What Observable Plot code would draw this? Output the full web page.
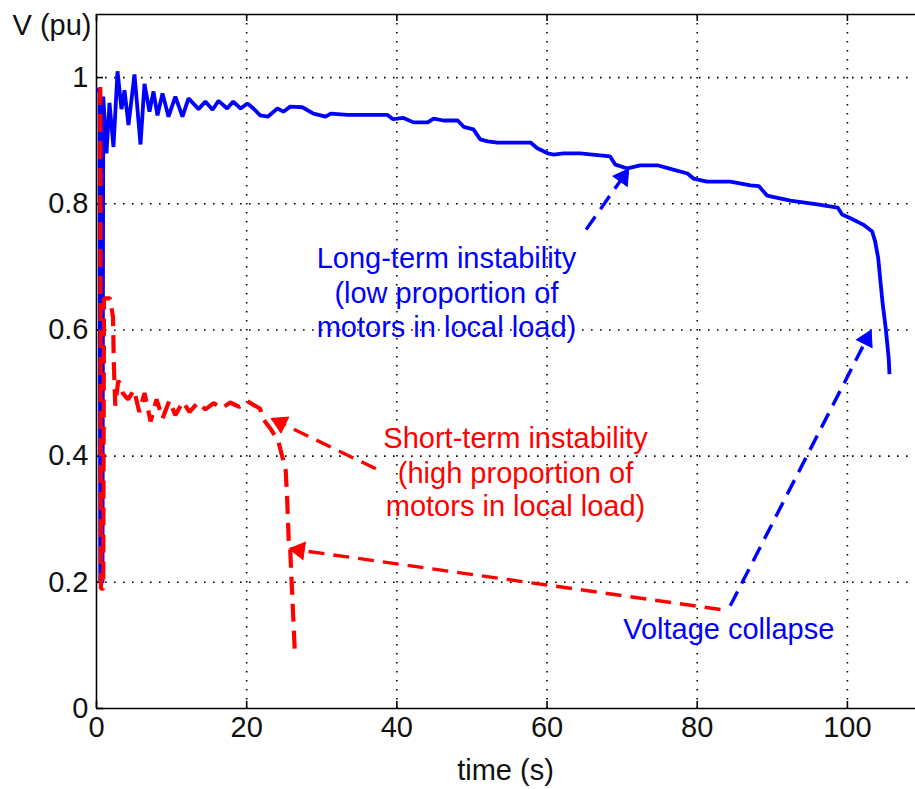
<!DOCTYPE html>
<html>
<head>
<meta charset="utf-8">
<script src="https://cdn.jsdelivr.net/npm/d3@7"></script>
<script src="https://cdn.jsdelivr.net/npm/@observablehq/plot@0.6"></script>
<style>
  html, body { margin: 0; padding: 0; background: #ffffff; }
  #chart svg { display: block; }
</style>
</head>
<body>
<div id="chart"></div>
<script>
// ---- Data ----
// Long-term instability (low proportion of motors in local load) – blue solid
const blueTime = [0, 0.4, 0.5, 0.8, 0.9, 1.0, 1.33, 1.73, 2.26, 2.8, 3.33, 3.73, 4.26, 5.06, 5.86, 6.39, 7.06, 7.59, 8.12, 8.79, 9.59, 10.5, 11.45, 12.25, 13.6, 14.5, 15.45, 16.25, 17.4, 18.2, 19.2, 20.1, 20.9, 21.8, 22.8, 24.1, 24.9, 25.8, 27.4, 28.9, 30.5, 31.2, 33.4, 38.7, 39.5, 40.9, 42.2, 44.1, 44.9, 46.2, 48.1, 48.9, 50.2, 51.1, 52.1, 53.4, 57.8, 58.7, 60.1, 60.9, 62.2, 64.4, 68.4, 69.1, 70.7, 72.4, 74.7, 76.8, 78.7, 79.5, 81.3, 84.4, 87.1, 88.2, 89.3, 92.4, 96.0, 98.7, 99.3, 100.4, 102.1, 103.3, 103.7, 104.1, 104.4, 104.7, 105.1, 105.5, 105.6];
const blueVolt = [0.98, 0.98, 0.2, 0.2, 0.97, 0.95, 0.88, 0.96, 0.89, 1.01, 0.95, 0.98, 0.925, 1.005, 0.894, 0.99, 0.946, 0.978, 0.94, 0.975, 0.938, 0.97, 0.938, 0.967, 0.95, 0.962, 0.949, 0.963, 0.951, 0.962, 0.951, 0.959, 0.951, 0.94, 0.938, 0.951, 0.946, 0.954, 0.953, 0.943, 0.938, 0.943, 0.941, 0.941, 0.934, 0.936, 0.929, 0.929, 0.935, 0.932, 0.932, 0.922, 0.918, 0.902, 0.899, 0.897, 0.897, 0.888, 0.88, 0.878, 0.88, 0.88, 0.875, 0.862, 0.856, 0.861, 0.861, 0.854, 0.848, 0.84, 0.835, 0.835, 0.829, 0.828, 0.813, 0.805, 0.799, 0.794, 0.783, 0.777, 0.767, 0.756, 0.74, 0.714, 0.677, 0.641, 0.603, 0.555, 0.53];

// Short-term instability (high proportion of motors in local load) – red dashed
const redTime = [0.5, 0.6, 0.9, 1.0, 1.8, 2.2, 2.3, 2.5, 2.9, 3.5, 4.2, 5.0, 5.7, 6.4, 7.2, 8.0, 8.8, 9.7, 10.5, 11.5, 12.4, 13.5, 14.5, 15.6, 16.7, 17.8, 19.0, 20.1, 21.8, 22.1, 23.2, 24.2, 24.9, 25.2, 25.4, 25.6, 25.8, 26.1, 26.4, 26.6];
const redVolt = [0.985, 0.19, 0.19, 0.65, 0.65, 0.62, 0.55, 0.48, 0.52, 0.5, 0.49, 0.505, 0.47, 0.5, 0.455, 0.49, 0.46, 0.488, 0.465, 0.486, 0.47, 0.485, 0.474, 0.484, 0.476, 0.485, 0.478, 0.487, 0.475, 0.46, 0.443, 0.424, 0.392, 0.377, 0.33, 0.266, 0.25, 0.171, 0.092, 0.089];

// Axis ticks
const xTicks = [0, 20, 40, 60, 80, 100];
const yTicks = [0, 0.2, 0.4, 0.6, 0.8, 1];
const xTickLabels = ["0", "20", "40", "60", "80", "100"];
const yTickLabels = ["0", "0.2", "0.4", "0.6", "0.8", "1"];

// Annotation texts
const noteText  = ["Long-term instability", "(low proportion of", "motors in local load)",
                   "Short-term instability", "(high proportion of", "motors in local load)",
                   "Voltage collapse"];
const noteTime  = [46.6, 46.6, 46.6, 55.8, 55.8, 55.8, 84.2];
const noteVolt  = [0.7125, 0.657, 0.603, 0.427, 0.372, 0.320, 0.125];
const noteColor = ["blue", "blue", "blue", "red", "red", "red", "blue"];

// Annotation arrows (from text to curve)
const arrowFromTime = [65.2, 84.4, 37.2, 83.1];
const arrowFromVolt = [0.759, 0.163, 0.38, 0.157];
const arrowToTime   = [70.8, 103.1, 23.4, 25.8];
const arrowToVolt   = [0.854, 0.598, 0.459, 0.253];
const arrowColor    = ["blue", "blue", "red", "red"];

// ---- Layout ----
const W = 915, H = 789;
const mL = 96, mR = -7, mT = 14, mB = 81;
const xDom = [0, 110], yDom = [0, 1.1];
const kx = (W - mR - mL) / (xDom[1] - xDom[0]);   // px per second
const ky = (H - mB - mT) / (yDom[1] - yDom[0]);   // px per pu
const tickLen = 7;
const headBack = 9;   // centroid offset of arrowhead from the tip (px)

const colors = { blue: "#0000ff", red: "#ff0000" };

const blueData = blueTime.map((t, i) => ({ t, v: blueVolt[i] }));
const redData = redTime.map((t, i) => ({ t, v: redVolt[i] }));
const notes = noteText.map((s, i) => ({ s, t: noteTime[i], v: noteVolt[i], c: colors[noteColor[i]] }));
const arrows = arrowFromTime.map((t1, i) => {
  const t2 = arrowToTime[i], v1 = arrowFromVolt[i], v2 = arrowToVolt[i];
  const sx = (t2 - t1) * kx, sy = -(v2 - v1) * ky;          // screen direction
  const len = Math.hypot(sx, sy), ux = sx / len, uy = sy / len;
  const ang = Math.atan2(sy, sx) * 180 / Math.PI;
  return {
    t1, v1, t2, v2, c: colors[arrowColor[i]],
    hx: t2 - ux * headBack / kx, hy: v2 + uy * headBack / ky,
    rot: ang + 90
  };
});

const font = "'Liberation Sans', Arial, Helvetica, sans-serif";

const chart = Plot.plot({
  width: W, height: H,
  marginLeft: mL, marginRight: mR, marginTop: mT, marginBottom: mB,
  style: { fontFamily: font, fontSize: "29px", background: "#ffffff", color: "#111" },
  x: { domain: xDom, ticks: xTicks },
  y: { domain: yDom, ticks: yTicks },
  marks: [
    // dotted grid
    Plot.ruleX(xTicks.slice(1), { stroke: "#000", strokeWidth: 1.6, strokeDasharray: "1.6,7.4", strokeOpacity: 1 }),
    Plot.ruleY(yTicks.slice(1), { stroke: "#000", strokeWidth: 1.6, strokeDasharray: "1.6,7.4", strokeOpacity: 1 }),
    // box (left, bottom, top)
    Plot.ruleX([xDom[0]], { stroke: "#000", strokeWidth: 1.6 }),
    Plot.ruleY([yDom[0], yDom[1]], { stroke: "#000", strokeWidth: 1.6 }),
    // inward ticks
    Plot.ruleX(xTicks, { y1: yDom[0], y2: yDom[0] + tickLen / ky, stroke: "#000", strokeWidth: 1.6 }),
    Plot.ruleX(xTicks, { y1: yDom[1], y2: yDom[1] - tickLen / ky, stroke: "#000", strokeWidth: 1.6 }),
    Plot.ruleY(yTicks, { x1: xDom[0], x2: xDom[0] + tickLen / kx, stroke: "#000", strokeWidth: 1.6 }),
    // axes (labels only)
    Plot.axisX({ ticks: xTicks, tickFormat: (d, i) => xTickLabels[i], tickSize: 0, tickPadding: 8, label: null, fontSize: 29 }),
    Plot.axisY({ ticks: yTicks, tickFormat: (d, i) => yTickLabels[i], tickSize: 0, tickPadding: 8, label: null, fontSize: 29 }),
    // curves
    Plot.line(blueData, { x: "t", y: "v", stroke: colors.blue, strokeWidth: 3.8, strokeLinejoin: "miter", strokeLinecap: "butt" }),
    Plot.line(redData, { x: "t", y: "v", stroke: colors.red, strokeWidth: 4.2, strokeDasharray: "18,9", strokeLinejoin: "miter", strokeLinecap: "butt" }),
    // annotation arrows
    Plot.link(arrows, { x1: "t1", y1: "v1", x2: "t2", y2: "v2", stroke: "c", strokeWidth: 3.4, strokeDasharray: "16,9", strokeLinecap: "butt" }),
    Plot.dot(arrows, { x: "hx", y: "hy", symbol: "triangle", r: 6.5, fill: "c", stroke: "c", strokeWidth: 1, rotate: "rot" }),
    // annotation texts
    Plot.text(notes, { x: "t", y: "v", text: "s", fill: "c", fontSize: 29, textAnchor: "middle", lineAnchor: "middle" }),
    // axis titles
    Plot.text(["V (pu)"], { frameAnchor: "top-left", textAnchor: "end", lineAnchor: "top", dx: -5, dy: 0, fontSize: 29, fill: "#111" }),
    Plot.text(["time (s)"], { frameAnchor: "bottom", textAnchor: "middle", lineAnchor: "top", dx: -4, dy: 51, fontSize: 29, fill: "#111" })
  ]
});

document.getElementById("chart").appendChild(chart);
</script>
</body>
</html>
